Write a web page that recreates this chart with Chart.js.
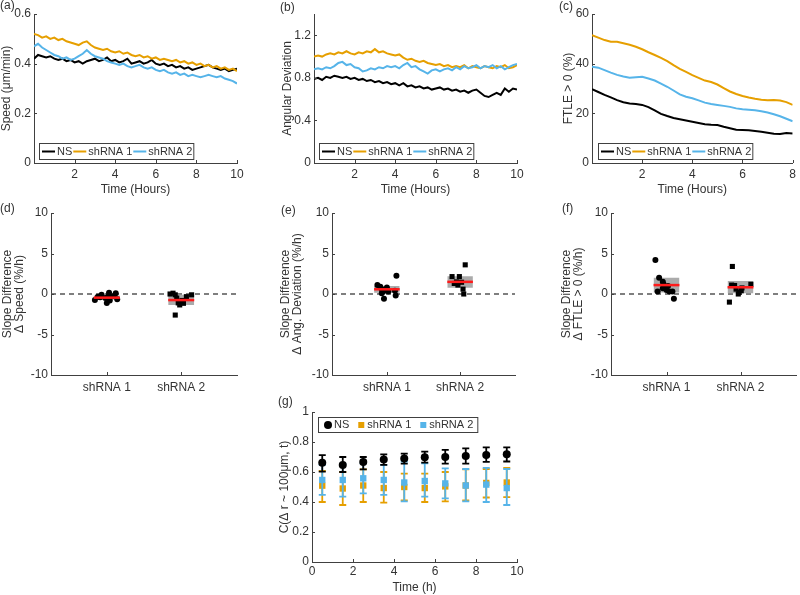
<!DOCTYPE html>
<html>
<head>
<meta charset="utf-8">
<script src="https://cdn.jsdelivr.net/npm/chart.js@4.4.1/dist/chart.umd.min.js"></script>
<style>
  body { margin: 0; background: #fff; }
  #fig { position: relative; width: 800px; height: 595px; overflow: hidden; }
  #fig canvas { position: absolute; left: 0; top: 0; }
  .tag { position: absolute; font: 12px "Liberation Sans", Arial, sans-serif; color: #333; line-height: 14px; }
</style>
</head>
<body>
<div id="fig">
  <canvas id="cA" width="800" height="595"></canvas>
  <canvas id="cB" width="800" height="595"></canvas>
  <canvas id="cC" width="800" height="595"></canvas>
  <canvas id="cD" width="800" height="595"></canvas>
  <canvas id="cE" width="800" height="595"></canvas>
  <canvas id="cF" width="800" height="595"></canvas>
  <canvas id="cG" width="800" height="595"></canvas>
  <div class="tag" style="left:0;top:-2px">(a)</div>
  <div class="tag" style="left:280px;top:0px">(b)</div>
  <div class="tag" style="left:559px;top:-1px">(c)</div>
  <div class="tag" style="left:0;top:201px">(d)</div>
  <div class="tag" style="left:281px;top:203px">(e)</div>
  <div class="tag" style="left:562px;top:201px">(f)</div>
  <div class="tag" style="left:278px;top:394px">(g)</div>
</div>
<script>
// ---- data ----
const groups = ['NS', 'shRNA 1', 'shRNA 2'];
const catLabels = ['shRNA 1', 'shRNA 2'];

const timeAB = [0,0.2,0.4,0.6,0.8,1,1.2,1.4,1.6,1.8,2,2.2,2.4,2.6,2.8,3,3.2,3.4,3.6,3.8,
  4,4.2,4.4,4.6,4.8,5,5.2,5.4,5.6,5.8,6,6.2,6.4,6.6,6.8,7,7.2,7.4,7.6,7.8,
  8,8.2,8.4,8.6,8.8,9,9.2,9.4,9.6,9.8,10];

// (a) speed (um/min)
const speedNS = [.42,.435,.43,.425,.43,.42,.415,.42,.41,.415,
  .405,.41,.40,.41,.415,.42,.41,.415,.425,.41,
  .415,.405,.41,.42,.40,.405,.41,.40,.405,.415,
  .40,.395,.40,.39,.395,.385,.39,.38,.385,.375,
  .38,.385,.39,.395,.385,.38,.375,.38,.37,.375,.38];
const speedSh1 = [.52,.515,.505,.51,.50,.505,.495,.50,.49,.485,
  .48,.475,.485,.49,.475,.465,.46,.455,.46,.45,
  .445,.45,.44,.445,.435,.43,.435,.425,.43,.42,
  .425,.415,.42,.415,.41,.415,.405,.41,.40,.405,
  .395,.40,.39,.395,.385,.39,.38,.385,.375,.38,.37];
const speedSh2 = [.47,.48,.465,.455,.445,.435,.43,.42,.425,.415,
  .42,.43,.44,.455,.44,.43,.425,.42,.41,.405,
  .40,.395,.40,.39,.385,.39,.395,.385,.38,.385,
  .375,.37,.375,.365,.36,.365,.355,.36,.35,.355,
  .35,.345,.35,.355,.35,.345,.35,.34,.335,.33,.32];

// (b) angular deviation
const angNS = [.79,.80,.78,.81,.80,.82,.81,.80,.81,.79,
  .80,.78,.79,.77,.78,.76,.77,.75,.76,.74,
  .75,.73,.75,.72,.73,.71,.72,.70,.71,.69,
  .70,.71,.69,.70,.68,.69,.67,.68,.66,.68,
  .69,.66,.63,.62,.64,.66,.64,.70,.67,.70,.69];
const angSh1 = [1.00,1.01,1.00,1.02,1.03,1.02,1.04,1.03,1.05,1.03,
  1.02,1.04,1.03,1.05,1.04,1.07,1.04,1.05,1.03,1.02,
  1.01,1.02,.99,.97,.98,.96,.95,.96,.94,.93,
  .92,.93,.91,.92,.90,.91,.90,.92,.89,.91,
  .90,.89,.91,.90,.89,.91,.90,.92,.89,.90,.92];
const angSh2 = [.88,.89,.88,.90,.89,.91,.94,.95,.92,.93,
  .90,.89,.86,.87,.89,.88,.90,.89,.91,.90,
  .91,.89,.92,.94,.90,.91,.88,.86,.84,.87,
  .88,.86,.88,.89,.87,.90,.88,.91,.89,.90,
  .92,.89,.91,.90,.92,.89,.91,.88,.90,.92,.93];

// (c) FTLE > 0 (%)
const timeC = [0,0.25,0.5,0.75,1,1.25,1.5,1.75,2,2.25,2.5,2.75,3,3.25,3.5,3.75,
  4,4.25,4.5,4.75,5,5.25,5.5,5.75,6,6.25,6.5,6.75,7,7.25,7.5,7.75,8];
const ftleNS = [29.7,28.6,27.4,26.4,25.3,24.5,24.0,23.8,23.4,22.5,21.2,19.8,18.9,18.1,17.6,17.1,
  16.6,16.1,15.6,15.4,15.3,14.6,14.0,13.4,13.3,13.2,12.9,12.6,12.2,11.8,11.7,12.1,11.9];
const ftleSh1 = [51.5,50.5,49.5,48.8,48.8,48.2,47.6,46.8,45.8,44.6,43.5,42.3,41.0,39.4,37.9,36.7,
  35.4,34.3,33.2,32.6,31.6,30.2,28.8,27.8,27.0,26.4,25.9,25.5,25.3,25.4,25.2,24.5,23.4];
const ftleSh2 = [38.8,38.4,37.4,36.4,35.5,34.8,34.3,34.5,34.7,34.0,33.2,32.0,30.7,29.2,27.6,26.7,
  26.1,25.2,24.3,23.8,23.4,23.0,22.6,22.0,21.6,21.4,21.2,20.8,20.3,19.6,18.8,17.8,16.8];

// (d)-(f) slope differences (%/h): x = category + spread
const dX1 = [0.84,0.88,0.93,0.98,1.00,1.03,1.04,1.09,1.12,1.14,0.91,1.02];
const dY1 = [-0.75,-0.33,-0.1,-0.5,-1.1,0.15,-0.8,-0.25,0.1,-0.65,-0.4,-0.3];
const dX2 = [1.85,1.89,1.92,1.94,1.96,1.98,2.01,2.03,2.07,2.14,1.92];
const dY2 = [0,0.1,-0.1,-0.5,-1.1,-1.35,-0.8,-1.15,-0.33,-0.1,-2.6];
const dMean = [-0.45, -0.75], dLow = [-0.7, -1.35], dHigh = [-0.2, -0.1];

const eX1 = [0.87,0.91,0.93,0.95,0.97,0.96,1.00,0.93,1.02,1.13,1.12,1.11];
const eY1 = [1.1,0.9,0.6,0.3,0.5,-0.6,0.8,0.1,0.3,2.25,-0.2,0.4];
const eX2 = [1.89,1.99,1.92,1.95,2.02,2.07,2.04,2.05,1.97];
const eY2 = [2.15,2.15,1.3,1.5,1.45,3.6,0.6,0.0,1.1];
const eMean = [0.58, 1.5], eLow = [0.15, 0.78], eHigh = [1.0, 2.2];

const fX1 = [0.85,0.90,0.88,0.95,0.96,0.99,1.00,1.04,1.08,0.95,1.10,1.02];
const fY1 = [4.2,2.0,0.3,1.5,1.2,0.8,0.5,0.3,0.3,0.7,-0.6,1.0];
const fX2 = [1.89,1.85,1.88,1.92,1.94,1.97,2.01,2.02,2.14,1.98];
const fY2 = [3.4,-1.0,1.1,1.05,0.6,0.0,0.4,0.75,1.2,0.2];
const fMean = [1.1, 0.83], fLow = [0.2, 0.1], fHigh = [2.0, 1.6];

// (g) C(dr ~ 100um, t)
const timeG = [0.5,1.5,2.5,3.5,4.5,5.5,6.5,7.5,8.5,9.5];
const corrNS = [0.662,0.647,0.667,0.684,0.69,0.698,0.70,0.707,0.713,0.718];
const corrNSHi = [0.713,0.70,0.70,0.718,0.722,0.736,0.747,0.758,0.764,0.764];
const corrNSLo = [0.602,0.60,0.617,0.647,0.656,0.662,0.656,0.656,0.667,0.67];
const corrSh1 = [0.509,0.49,0.51,0.493,0.50,0.493,0.504,0.51,0.527,0.53];
const corrSh1Hi = [0.607,0.60,0.617,0.60,0.589,0.589,0.60,0.617,0.62,0.627];
const corrSh1Lo = [0.40,0.38,0.40,0.396,0.411,0.40,0.404,0.411,0.43,0.433];
const corrSh2 = [0.547,0.547,0.558,0.547,0.53,0.54,0.524,0.51,0.516,0.493];
const corrSh2Hi = [0.647,0.651,0.658,0.647,0.669,0.658,0.624,0.62,0.627,0.62];
const corrSh2Lo = [0.447,0.436,0.458,0.447,0.404,0.436,0.424,0.404,0.40,0.38];

// tick values
const ticksTime10 = [2,4,6,8,10];
const ticksTime8 = [2,4,6,8];
const ticksTimeG = [0,2,4,6,8,10];
const ticksSpeed = [0,0.2,0.4,0.6];
const ticksAng = [0,0.4,0.8,1.2];
const ticksFtle = [0,20,40,60];
const ticksSlope = [-10,-5,0,5,10];
const ticksCat = [1,2];
const ticksCorr = [0,0.2,0.4,0.6,0.8,1];

// ---- styling ----
const W = 800, H = 595;
const FONT = '"Liberation Sans", Arial, sans-serif';
const AXIS = '#404040', TXT = '#333333';
const BLACK = '#000000', ORANGE = '#E69F00', BLUE = '#56B4E9', RED = '#FF1A1A', GRAY = '#ABABAB';
const BOX_HALF = 0.175;

Chart.defaults.font.family = FONT;
Chart.defaults.font.size = 12;
Chart.defaults.color = TXT;

// MATLAB style ticks pointing into the axes
const inTicks = {
  id: 'inTicks',
  afterDraw(chart) {
    const { ctx, chartArea: a, scales: { x, y } } = chart;
    ctx.save();
    ctx.strokeStyle = AXIS;
    ctx.lineWidth = 1;
    ctx.beginPath();
    x.ticks.forEach(t => {
      const p = Math.round(x.getPixelForValue(t.value)) + 0.5;
      ctx.moveTo(p, a.bottom); ctx.lineTo(p, a.bottom - 3);
    });
    y.ticks.forEach(t => {
      const p = Math.round(y.getPixelForValue(t.value)) + 0.5;
      ctx.moveTo(a.left, p); ctx.lineTo(a.left + 3, p);
    });
    ctx.stroke();
    ctx.restore();
  }
};

// boxed legend in one row
const boxLegend = {
  id: 'boxLegend',
  afterDraw(chart, args, o) {
    if (!o || !o.show) return;
    const ctx = chart.ctx;
    const items = chart.data.datasets.filter(d => d.label);
    ctx.save();
    ctx.font = '11px ' + FONT;
    const widths = items.map(d => ctx.measureText(d.label).width);
    let w = o.pad + o.padEnd;
    items.forEach((d, i) => { w += o.sample + o.gap + widths[i] + (i < items.length - 1 ? o.itemGap : 0); });
    ctx.fillStyle = '#fff';
    ctx.fillRect(o.x, o.y, w, o.h);
    ctx.strokeStyle = AXIS;
    ctx.lineWidth = 1;
    ctx.strokeRect(o.x + 0.5, o.y + 0.5, w, o.h);
    let cx = o.x + o.pad;
    const cy = o.y + o.h / 2 + 0.5;
    items.forEach((d, i) => {
      if (o.marker) {
        ctx.fillStyle = d.backgroundColor;
        const mx = cx + o.sample / 2;
        if (d.pointStyle === 'rect') ctx.fillRect(mx - 3, cy - 3, 6, 6);
        else { ctx.beginPath(); ctx.arc(mx, cy, 4, 0, Math.PI * 2); ctx.fill(); }
      } else {
        ctx.strokeStyle = d.borderColor;
        ctx.lineWidth = 2;
        ctx.beginPath(); ctx.moveTo(cx, cy); ctx.lineTo(cx + o.sample, cy); ctx.stroke();
      }
      cx += o.sample + o.gap;
      ctx.fillStyle = TXT;
      ctx.textBaseline = 'middle';
      ctx.textAlign = 'left';
      ctx.fillText(d.label, cx, cy);
      cx += widths[i] + o.itemGap;
    });
    ctx.restore();
  }
};

// vertical error bars with caps, drawn under the markers
const errorBars = {
  id: 'errorBars',
  beforeDatasetDraw(chart, args) {
    const ds = chart.data.datasets[args.index];
    if (!ds.errLow) return;
    const { ctx, scales: { x, y } } = chart;
    ctx.save();
    ctx.strokeStyle = ds.backgroundColor;
    ctx.lineWidth = 1.8;
    ctx.beginPath();
    ds.data.forEach((p, i) => {
      const px = x.getPixelForValue(p.x);
      const top = y.getPixelForValue(ds.errHigh[i]);
      const bot = y.getPixelForValue(ds.errLow[i]);
      ctx.moveTo(px, top); ctx.lineTo(px, bot);
      ctx.moveTo(px - 3.5, top); ctx.lineTo(px + 3.5, top);
      ctx.moveTo(px - 3.5, bot); ctx.lineTo(px + 3.5, bot);
    });
    ctx.stroke();
    ctx.restore();
  }
};

function axis(min, max, ticks, title, size, isX, pad, fmt, lh) {
  return {
    type: 'linear', min, max,
    border: { color: AXIS, width: 1 },
    grid: { drawOnChartArea: false, drawTicks: false },
    ticks: { padding: pad, color: TXT, autoSkip: false, maxRotation: 0, callback: fmt || (v => String(v)) },
    title: { display: !!title, text: title || '', color: TXT, padding: 0, font: { family: FONT, size: 12, lineHeight: lh || 1.15 } },
    afterBuildTicks: s => { s.ticks = ticks.map(v => ({ value: v })); },
    afterFit: s => { if (isX) s.height = size; else s.width = size; }
  };
}

function options(area, yw, xh, scales, extra) {
  return {
    responsive: false, animation: false, events: [], devicePixelRatio: 1,
    layout: { padding: { left: area[0] - yw, top: area[1], right: W - area[2], bottom: H - area[3] - xh } },
    scales,
    plugins: Object.assign({ legend: { display: false }, tooltip: { enabled: false } }, extra)
  };
}

function pts(xs, ys) { return xs.map((x, i) => ({ x, y: ys[i] })); }

function series(time, vals, label, color, order) {
  return { label, data: pts(time, vals), borderColor: color, backgroundColor: color,
    borderWidth: 2, pointRadius: 0, order };
}

const lineLegend = (x, y) => ({ show: true, x, y, h: 16, pad: 3, padEnd: 1, sample: 13, gap: 2, itemGap: 1 });

function timePanel(id, area, yw, yMin, yMax, yTicks, yTitle, xMax, xTicks, vals, time, lx) {
  new Chart(document.getElementById(id), {
    type: 'line',
    data: { datasets: [
      series(time, vals[0], groups[0], BLACK, 3),
      series(time, vals[1], groups[1], ORANGE, 2),
      series(time, vals[2], groups[2], BLUE, 1)
    ] },
    options: options(area, yw, 34, {
      x: axis(0, xMax, xTicks, 'Time (Hours)', 34, true, 4),
      y: axis(yMin, yMax, yTicks, yTitle, yw, false, 3)
    }, { boxLegend: lineLegend(lx, 143) }),
    plugins: [inTicks, boxLegend]
  });
}

function slopePanel(id, area, yw, yTitle, x1, y1, x2, y2, mean, low, high) {
  const sets = [
    { data: [{ x: 0.25, y: 0 }, { x: 2.75, y: 0 }], borderColor: '#555555', borderDash: [5, 4],
      borderWidth: 1.5, pointRadius: 0, order: 10 }
  ];
  [1, 2].forEach((c, k) => {
    sets.push({ data: [{ x: c - BOX_HALF, y: high[k] }, { x: c + BOX_HALF, y: high[k] }], fill: '+1',
      backgroundColor: GRAY, borderWidth: 0, pointRadius: 0, order: 9 });
    sets.push({ data: [{ x: c - BOX_HALF, y: low[k] }, { x: c + BOX_HALF, y: low[k] }],
      borderWidth: 0, borderColor: 'rgba(0,0,0,0)', pointRadius: 0, order: 9 });
  });
  sets.push({ data: pts(x1, y1), showLine: false, pointStyle: 'circle', pointRadius: 3,
    backgroundColor: BLACK, borderWidth: 0, order: 3 });
  sets.push({ data: pts(x2, y2), showLine: false, pointStyle: 'rect', pointRadius: 3.6,
    backgroundColor: BLACK, borderWidth: 0, order: 3 });
  [1, 2].forEach((c, k) => {
    sets.push({ data: [{ x: c - BOX_HALF, y: mean[k] }, { x: c + BOX_HALF, y: mean[k] }],
      borderColor: RED, borderWidth: 2.5, pointRadius: 0, order: 1 });
  });
  new Chart(document.getElementById(id), {
    type: 'line',
    data: { datasets: sets },
    options: options(area, yw, 22, {
      x: axis(0.25, 2.75, ticksCat, '', 22, true, 5, v => catLabels[v - 1] || ''),
      y: axis(-10, 10, ticksSlope, yTitle, yw, false, 3, null, 1.05)
    }, {}),
    plugins: [inTicks]
  });
}

timePanel('cA', [34, 14, 237, 163], 34, 0, 0.6, ticksSpeed, 'Speed (\u03bcm/min)', 10, ticksTime10,
  [speedNS, speedSh1, speedSh2], timeAB, 39);
timePanel('cB', [314, 14, 517, 163], 33, 0, 1.4, ticksAng, 'Angular Deviation', 10, ticksTime10,
  [angNS, angSh1, angSh2], timeAB, 319);
timePanel('cC', [592, 14, 797, 163], 30, 0, 60, ticksFtle, 'FTLE > 0 (%)', 8, ticksTime8,
  [ftleNS, ftleSh1, ftleSh2], timeC, 598);

slopePanel('cD', [51, 213, 237, 375], 50, ['Slope Difference', '\u0394 Speed (%/h)'],
  dX1, dY1, dX2, dY2, dMean, dLow, dHigh);
slopePanel('cE', [332, 213, 515, 375], 53, ['Slope Difference', '\u0394 Ang. Deviation (%/h)'],
  eX1, eY1, eX2, eY2, eMean, eLow, eHigh);
slopePanel('cF', [611, 213, 797, 375], 51, ['Slope Difference', '\u0394 FTLE > 0 (%/h)'],
  fX1, fY1, fX2, fY2, fMean, fLow, fHigh);

new Chart(document.getElementById('cG'), {
  type: 'line',
  data: { datasets: [
    { label: groups[0], data: pts(timeG, corrNS), errLow: corrNSLo, errHigh: corrNSHi, showLine: false,
      pointStyle: 'circle', pointRadius: 4, backgroundColor: BLACK, borderWidth: 0, order: 1 },
    { label: groups[1], data: pts(timeG, corrSh1), errLow: corrSh1Lo, errHigh: corrSh1Hi, showLine: false,
      pointStyle: 'rect', pointRadius: 4.5, backgroundColor: ORANGE, borderWidth: 0, order: 3 },
    { label: groups[2], data: pts(timeG, corrSh2), errLow: corrSh2Lo, errHigh: corrSh2Hi, showLine: false,
      pointStyle: 'rect', pointRadius: 4.5, backgroundColor: BLUE, borderWidth: 0, order: 2 }
  ] },
  options: options([312, 412, 517, 562], 34, 33, {
    x: axis(0, 10, ticksTimeG, 'Time (h)', 33, true, 2),
    y: axis(0, 1, ticksCorr, 'C(\u0394 r ~ 100\u03bcm, t)', 34, false, 3)
  }, { boxLegend: { show: true, x: 318, y: 417, h: 15, pad: 6, padEnd: 4, sample: 8, gap: 2, itemGap: 8, marker: true } }),
  plugins: [inTicks, boxLegend, errorBars]
});
</script>
</body>
</html>
